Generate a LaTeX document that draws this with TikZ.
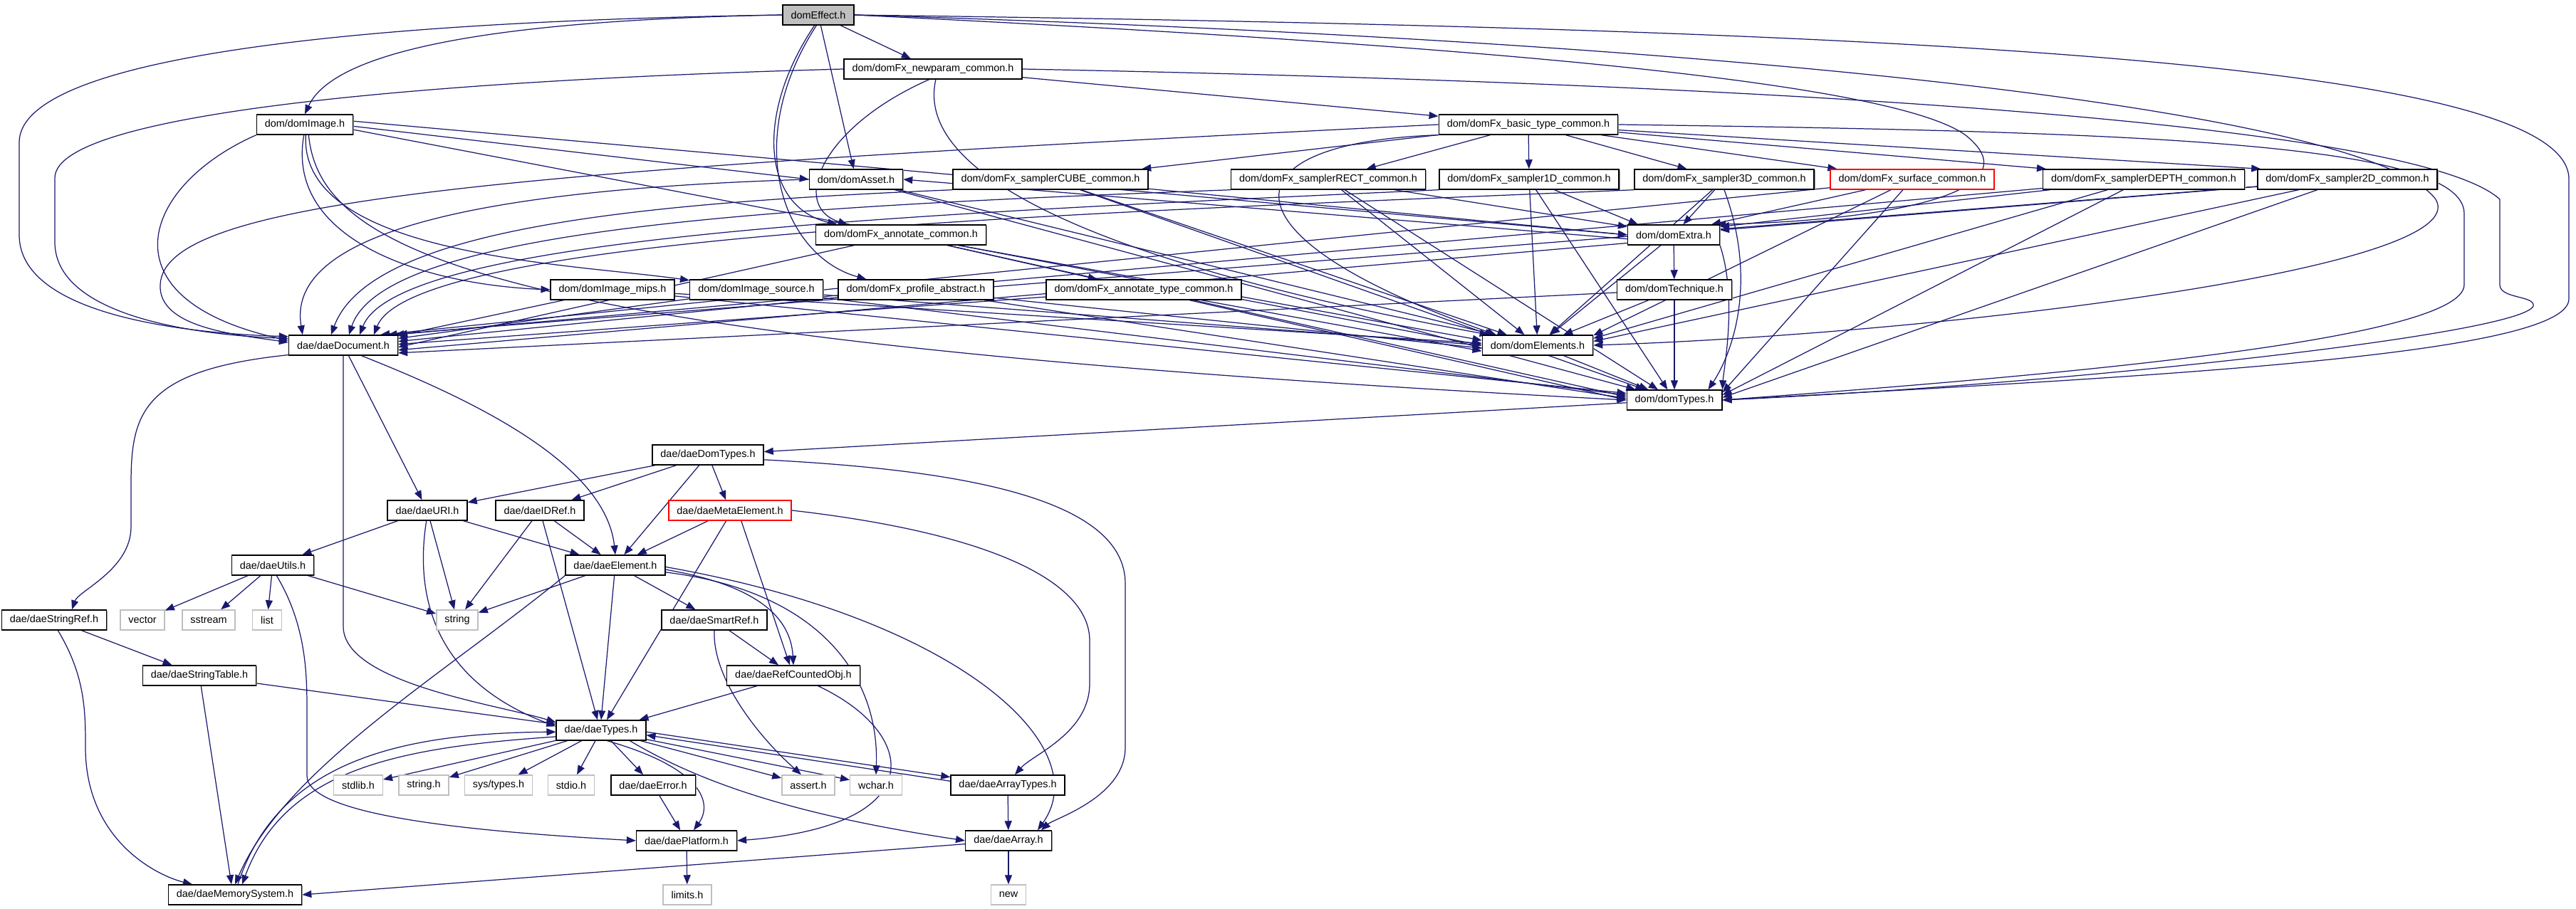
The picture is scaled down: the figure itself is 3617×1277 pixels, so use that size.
\documentclass[tikz,border=0pt]{standalone}
\usepackage{fontspec}
\usepackage{xcolor}
\newfontfamily\dotfont{Liberation Sans}
\usetikzlibrary{arrows.meta,shadows}
\definecolor{edgeblue}{RGB}{25,25,112}
\definecolor{sysgray}{RGB}{191,191,191}
\pgfdeclarelayer{background}
\pgfsetlayers{background,main}

\begin{document}
\begin{tikzpicture}[x=0.01cm,y=-0.01cm,
	box/.style={draw=black,fill=white,line width=0.4pt,inner xsep=0.115cm,inner ysep=0pt,minimum height=0.28cm,font=\dotfont\fontsize{4.1}{5}\selectfont},
	file/.style={box,drop shadow={shadow xshift=0.014cm,shadow yshift=-0.014cm,fill=black!40,opacity=1}},
	cutfile/.style={box,draw=red},
	topfile/.style={file,fill=sysgray},
	sysfile/.style={box,draw=sysgray},
	dep/.style={draw=edgeblue,line width=0.35pt,-{Triangle[length=0.13cm,width=0.1cm]}}]
			\path[use as bounding box] (0,0) rectangle (3617,1277);

			\node[topfile] (effect) at (1149,21) {domEffect.h};
			\node[file] (newparam) at (1310,97) {dom/domFx\_newparam\_common.h};
			\node[file] (image) at (428,175) {dom/domImage.h};
			\node[file] (basictype) at (2146,175) {dom/domFx\_basic\_type\_common.h};
			\node[file] (asset) at (1202,252) {dom/domAsset.h};
			\node[file] (cube) at (1475,252) {dom/domFx\_samplerCUBE\_common.h};
			\node[file] (rect) at (1865,252) {dom/domFx\_samplerRECT\_common.h};
			\node[file] (samplerOneD) at (2147,252) {dom/domFx\_sampler1D\_common.h};
			\node[file] (samplerThreeD) at (2421,252) {dom/domFx\_sampler3D\_common.h};
			\node[cutfile] (surface) at (2685,252) {dom/domFx\_surface\_common.h};
			\node[file] (depth) at (3010,252) {dom/domFx\_samplerDEPTH\_common.h};
			\node[file] (samplerTwoD) at (3296,252) {dom/domFx\_sampler2D\_common.h};
			\node[file] (annotate) at (1265,330) {dom/domFx\_annotate\_common.h};
			\node[file] (extra) at (2350,330) {dom/domExtra.h};
			\node[file] (mips) at (860,407) {dom/domImage\_mips.h};
			\node[file] (source) at (1062,407) {dom/domImage\_source.h};
			\node[file] (profile) at (1286,407) {dom/domFx\_profile\_abstract.h};
			\node[file] (annotype) at (1606,407) {dom/domFx\_annotate\_type\_common.h};
			\node[file] (technique) at (2351,407) {dom/domTechnique.h};
			\node[file] (document) at (482,485) {dae/daeDocument.h};
			\node[file] (elements) at (2159,485) {dom/domElements.h};
			\node[file] (domTypes) at (2351,562) {dom/domTypes.h};

			\node[file] (daeDomTypes) at (994,639) {dae/daeDomTypes.h};
			\node[file] (uri) at (600,717) {dae/daeURI.h};
			\node[file] (idref) at (758,717) {dae/daeIDRef.h};
			\node[cutfile] (meta) at (1025,717) {dae/daeMetaElement.h};
			\node[file] (utils) at (383,794) {dae/daeUtils.h};
			\node[file] (element) at (864,794) {dae/daeElement.h};
			\node[file] (stringref) at (76,871) {dae/daeStringRef.h};
			\node[sysfile] (vector) at (200,871) {vector};
			\node[sysfile] (sstream) at (293,871) {sstream};
			\node[sysfile] (list) at (375,871) {list};
			\node[sysfile] (string) at (642,871) {string};
			\node[file] (smartref) at (1003,871) {dae/daeSmartRef.h};
			\node[file] (stringtable) at (280,949) {dae/daeStringTable.h};
			\node[file] (refcounted) at (1114,949) {dae/daeRefCountedObj.h};
			\node[file] (daeTypes) at (844,1026) {dae/daeTypes.h};
			\node[sysfile] (stdlib) at (503,1103) {stdlib.h};
			\node[sysfile] (stringh) at (595,1103) {string.h};
			\node[sysfile] (systypes) at (700,1103) {sys/types.h};
			\node[sysfile] (stdio) at (802,1103) {stdio.h};
			\node[file] (error) at (917,1103) {dae/daeError.h};
			\node[sysfile] (assert) at (1135,1103) {assert.h};
			\node[sysfile] (wchar) at (1230,1103) {wchar.h};
			\node[file] (arraytypes) at (1415,1103) {dae/daeArrayTypes.h};
			\node[file] (platform) at (964,1181) {dae/daePlatform.h};
			\node[file] (array) at (1416,1181) {dae/daeArray.h};
			\node[file] (memsys) at (330,1257) {dae/daeMemorySystem.h};
			\node[sysfile] (limits) at (965,1257) {limits.h};
			\node[sysfile] (newh) at (1416,1257) {new};

			\begin{pgfonlayer}{background}
			\fill[white] (0,0) rectangle (3617,1277);

			\draw[dep] (effect.west) .. controls (500,30) and (27,80) .. (27,200) -- (27,330) .. controls (27,440) and (250,468) .. (document.171);
			\draw[dep] (effect.west) .. controls (700,28) and (470,70) .. (image.north);
			\draw[dep] (effect) -- (newparam);
			\draw[dep] (effect) -- (asset);
			\draw[dep] (effect.250) .. controls (1060,160) and (1070,290) .. ([xshift=0.3cm]annotate.north west);
			\draw[dep] (effect.260) .. controls (1040,200) and (1100,360) .. ([xshift=0.4cm]profile.north west);
			\draw[dep] (effect.east) .. controls (2000,60) and (2650,110) .. (2760,190) .. controls (2860,270) and (2650,310) .. ([xshift=-0.05cm]extra.north east);
			\draw[dep] (effect.east) .. controls (2500,60) and (3330,160) .. (3420,280) .. controls (3480,380) and (2700,470) .. (elements.east);
			\draw[dep] (effect.east) .. controls (2600,40) and (3600,80) .. (3607,250) -- (3607,420) .. controls (3607,500) and (3000,530) .. (domTypes.east);

			\draw[dep] (newparam.west) .. controls (700,110) and (77,150) .. (77,250) -- (77,340) .. controls (77,440) and (260,470) .. (document.173);
			\draw[dep] (newparam) -- (basictype);
			\draw[dep] (newparam.250) .. controls (1150,180) and (1110,290) .. ([xshift=0.45cm]annotate.north west);
			\draw[dep] (newparam.285) .. controls (1280,260) and (1600,380) .. ([xshift=0.1cm]elements.north west);
			\draw[dep] (newparam.east) .. controls (2600,120) and (3400,180) .. (3510,280) -- (3510,400) .. controls (3510,420) and (3560,415) .. (3557,430) .. controls (3540,470) and (2900,540) .. (domTypes.east);

			\draw[dep] (image.south west) .. controls (200,260) and (140,420) .. (document.175);
			\draw[dep] (image.-2) -- (asset.west);
			\draw[dep] (image.4) -- (extra.west);
			\draw[dep] (image.-6) -- (elements.west);
			\draw[dep] (image.290) .. controls (450,360) and (700,480) .. (domTypes.west);
			\draw[dep] (image.265) .. controls (400,340) and (600,400) .. (mips.west);
			\draw[dep] (image.275) .. controls (420,360) and (800,370) .. (source.172);

			\draw[dep] (basictype.west) .. controls (700,240) and (230,280) .. (225,400) .. controls (222,460) and (330,470) .. (document.177);
			\draw[dep] (basictype) -- (cube);
			\draw[dep] (basictype) -- (rect);
			\draw[dep] (basictype) -- (samplerOneD);
			\draw[dep] (basictype) -- (samplerThreeD);
			\draw[dep] (basictype) -- ([xshift=0.1cm]surface.north west);
			\draw[dep] (basictype) -- ([xshift=0.05cm]depth.north west);
			\draw[dep] (basictype) -- ([xshift=0.05cm]samplerTwoD.north west);
			\draw[dep] (basictype.south west) .. controls (1720,200) and (1700,330) .. ([xshift=0.2cm]elements.north west);
			\draw[dep] (basictype.east) .. controls (3000,185) and (3460,200) .. (3460,300) -- (3460,400) .. controls (3460,480) and (2850,530) .. (domTypes.east);

			\draw[dep] (asset.west) .. controls (700,265) and (400,320) .. ([xshift=0.2cm]document.north west);
			\draw[dep] (asset) -- (elements);
			\draw[dep] (asset) -- (domTypes);

			\draw[dep] (cube.south west) .. controls (900,285) and (520,320) .. ([xshift=0.6cm]document.north west);
			\draw[dep] (cube) -- (extra.west);
			\draw[dep] (cube) -- (elements);
			\draw[dep] (cube) -- (domTypes);
			\draw[dep] (rect.south west) .. controls (1100,290) and (540,320) .. ([xshift=0.85cm]document.north west);
			\draw[dep] (rect) -- (extra.170);
			\draw[dep] (rect) -- (elements);
			\draw[dep] (rect) -- (domTypes);
			\draw[dep] (samplerOneD.south west) .. controls (1300,300) and (560,330) .. ([xshift=1cm]document.north west);
			\draw[dep] (samplerOneD) -- ([xshift=0.15cm]extra.north west);
			\draw[dep] (samplerOneD) -- (elements);
			\draw[dep] (samplerOneD) -- (domTypes);
			\draw[dep] (samplerThreeD.south west) .. controls (1500,300) and (580,330) .. ([xshift=1.2cm]document.north west);
			\draw[dep] (samplerThreeD) -- (extra);
			\draw[dep] (samplerThreeD) -- (elements);
			\draw[dep] (samplerThreeD.south) .. controls (2470,400) and (2430,500) .. ([xshift=-0.2cm]domTypes.north east);
			\draw[dep] (surface) -- ([xshift=-0.25cm]document.north east);
			\draw[dep] (surface) -- ([xshift=-0.12cm]extra.north east);
			\draw[dep] (surface) -- (elements.10);
			\draw[dep] (surface) -- (domTypes.9);
			\draw[dep] (depth) -- ([xshift=-0.05cm]document.north east);
			\draw[dep] (depth) -- (extra.10);
			\draw[dep] (depth) -- (elements.7);
			\draw[dep] (depth) -- (domTypes.6);
			\draw[dep] (samplerTwoD) -- ([xshift=-0.15cm]document.north east);
			\draw[dep] (samplerTwoD) -- (extra.6);
			\draw[dep] (samplerTwoD) -- (elements.4);
			\draw[dep] (samplerTwoD) -- (domTypes.3);

			\draw[dep] (annotate) -- (document.-2);
			\draw[dep] (annotate) -- (annotype);
			\draw[dep] (annotate) -- (elements.175);
			\draw[dep] (annotate) -- (domTypes.176);
			\draw[dep] (extra.185) -- (asset.east);
			\draw[dep] (extra.190) -- (document.-5);
			\draw[dep] (extra) -- (technique);
			\draw[dep] (extra) -- (elements);
			\draw[dep] (extra.south east) .. controls (2440,420) and (2420,520) .. (domTypes.north east);
			\draw[dep] (technique) -- (document.-8);
			\draw[dep] (technique) -- (elements);
			\draw[dep] (technique) -- (domTypes);
			\draw[dep] (mips) -- (document.10);
			\draw[dep] (mips) -- (elements.178);
			\draw[dep] (mips) -- (domTypes.172);
			\draw[dep] (source) -- (document.7);
			\draw[dep] (source) -- (elements.180);
			\draw[dep] (source) -- (domTypes.174);
			\draw[dep] (profile) -- (document.4);
			\draw[dep] (profile) -- (elements.183);
			\draw[dep] (profile) -- (domTypes.178);
			\draw[dep] (annotype) -- (document.1);
			\draw[dep] (annotype) -- (elements.186);
			\draw[dep] (annotype) -- (domTypes.180);
			\draw[dep] (elements) -- (domTypes);
			\draw[dep] (domTypes) -- (daeDomTypes);

			\draw[dep] (document.south) -- (482,880) .. controls (482,960) and (700,990) .. (daeTypes.170);
			\draw[dep] (document) -- (uri);
			\draw[dep] (document.-30) .. controls (660,560) and (850,650) .. (element.north);
			\draw[dep] (document.190) .. controls (200,520) and (184,580) .. (184,680) -- (184,740) .. controls (184,800) and (110,830) .. ([xshift=0.25cm]stringref.north);
			\draw[dep] (daeDomTypes) -- (uri);
			\draw[dep] (daeDomTypes) -- (idref);
			\draw[dep] (daeDomTypes) -- (element);
			\draw[dep] (daeDomTypes) -- (meta);
			\draw[dep] (daeDomTypes.-5) .. controls (1350,660) and (1580,700) .. (1580,820) -- (1580,1050) .. controls (1580,1120) and (1480,1150) .. ([xshift=-0.15cm]array.north east);
			\draw[dep] (uri) -- (utils);
			\draw[dep] (uri) -- (string);
			\draw[dep] (uri) -- (element);
			\draw[dep] (uri.265) .. controls (580,850) and (620,960) .. (daeTypes.175);
			\draw[dep] (idref) -- (string);
			\draw[dep] (idref) -- (element);
			\draw[dep] (idref) -- ([xshift=-0.05cm]daeTypes.north);
			\draw[dep] (meta) -- (element);
			\draw[dep] (meta.-110) -- ([xshift=0.08cm]daeTypes.north);
			\draw[dep] (meta.-43) -- ([xshift=-0.05cm]refcounted.north);
			\draw[dep] (meta.east) .. controls (1400,750) and (1530,820) .. (1530,900) -- (1530,960) .. controls (1530,1030) and (1450,1060) .. ([xshift=0.1cm]arraytypes.north);
			\draw[dep] (utils) -- (vector);
			\draw[dep] (utils) -- (sstream);
			\draw[dep] (utils) -- (list);
			\draw[dep] (utils) -- (string);
			\draw[dep] (utils.-70) .. controls (431,880) and (431,950) .. (431,1000) -- (431,1090) .. controls (431,1150) and (700,1170) .. (platform.west);
			\draw[dep] (element) -- (string);
			\draw[dep] (element) -- (daeTypes.north);
			\draw[dep] (element) -- (smartref);
			\draw[dep] (element.-5) .. controls (1050,820) and (1110,860) .. (refcounted.north);
			\draw[dep] (element.-8) .. controls (1150,830) and (1235,950) .. (wchar.north);
			\draw[dep] (element.-2) .. controls (1350,870) and (1540,1050) .. ([xshift=-0.2cm]array.north east);
			\draw[dep] (element.south west) .. controls (620,950) and (400,1080) .. (memsys.north);
			\draw[dep] (stringref) -- (stringtable);
			\draw[dep] (stringref.-70) .. controls (120,950) and (120,1000) .. (120,1050) .. controls (120,1180) and (220,1230) .. ([xshift=-0.6cm]memsys.north);
			\draw[dep] (stringtable) -- (daeTypes);
			\draw[dep] (stringtable) -- ([xshift=-0.05cm]memsys.north);
			\draw[dep] (smartref) -- (refcounted);
			\draw[dep] (smartref.south) .. controls (1000,950) and (1060,1030) .. ([xshift=-0.1cm]assert.north);
			\draw[dep] (refcounted) -- ([xshift=-0.1cm]daeTypes.north east);
			\draw[dep] (refcounted.-23) .. controls (1290,1030) and (1310,1160) .. (platform.east);

			\draw[dep] (daeTypes) -- (stdlib);
			\draw[dep] (daeTypes) -- (stringh);
			\draw[dep] (daeTypes) -- (systypes);
			\draw[dep] (daeTypes) -- (stdio);
			\draw[dep] (daeTypes) -- (error);
			\draw[dep] (daeTypes.-60) .. controls (990,1080) and (1000,1130) .. ([xshift=0.1cm]platform.north);
			\draw[dep] (daeTypes) -- (assert);
			\draw[dep] (daeTypes) -- (wchar);
			\draw[dep] (daeTypes.-2) -- (arraytypes.172);
			\draw[dep] (arraytypes.176) -- (daeTypes.-6);
			\draw[dep] (daeTypes.-20) .. controls (1000,1110) and (1150,1150) .. (array.west);
			\draw[dep] (daeTypes.188) .. controls (560,1050) and (400,1080) .. ([xshift=0.1cm]memsys.north);
			\draw[dep] ([xshift=0.04cm]memsys.north) .. controls (390,1070) and (560,1030) .. (daeTypes.182);
			\draw[dep] (error) -- (platform);
			\draw[dep] (arraytypes) -- (array);
			\draw[dep] (array) -- (newh);
			\draw[dep] (array) -- (memsys.east);
			\draw[dep] (platform) -- (limits);
			\end{pgfonlayer}

		\end{tikzpicture}
\end{document}
